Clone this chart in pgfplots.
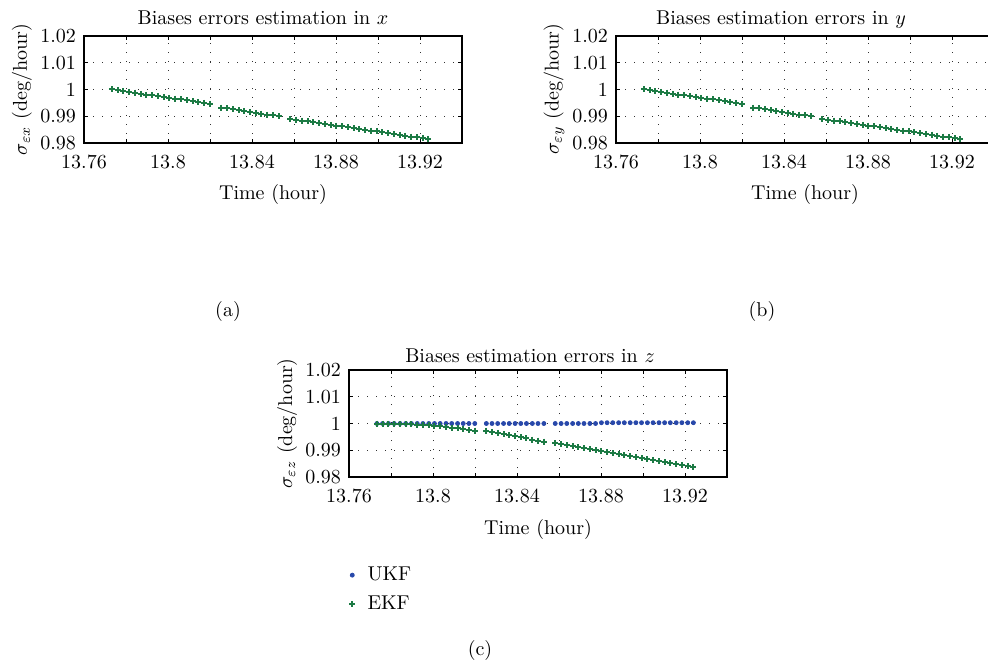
\documentclass[border=0pt]{standalone}
\usepackage{pgfplots}
\pgfplotsset{compat=1.18}
\definecolor{ekfgreen}{RGB}{28,122,68}
\definecolor{ukfblue}{RGB}{40,72,170}

\pgfplotstableread{
t y
13.7733 1.0000
13.7760 0.9997
13.7788 0.9994
13.7815 0.9991
13.7843 0.9988
13.7870 0.9984
13.7897 0.9981
13.7925 0.9978
13.7952 0.9975
13.7980 0.9972
13.8007 0.9969
13.8034 0.9966
13.8062 0.9963
13.8089 0.9960
13.8117 0.9956
13.8144 0.9953
13.8171 0.9950
13.8199 0.9947
13.8254 0.9932
13.8281 0.9929
13.8308 0.9926
13.8336 0.9922
13.8363 0.9919
13.8391 0.9916
13.8418 0.9913
13.8445 0.9910
13.8473 0.9906
13.8500 0.9903
13.8528 0.9900
13.8582 0.9890
13.8610 0.9887
13.8637 0.9884
13.8665 0.9881
13.8692 0.9878
13.8719 0.9874
13.8747 0.9871
13.8774 0.9868
13.8802 0.9865
13.8829 0.9862
13.8856 0.9859
13.8884 0.9856
13.8911 0.9853
13.8939 0.9849
13.8966 0.9846
13.8993 0.9843
13.9021 0.9840
13.9048 0.9837
13.9076 0.9834
13.9103 0.9831
13.9130 0.9828
13.9158 0.9824
13.9185 0.9821
13.9213 0.9818
13.9240 0.9815
}\ekfxy

\pgfplotstableread{
t y
13.7733 1.0000
13.7760 1.0000
13.7788 1.0000
13.7815 0.9999
13.7843 0.9999
13.7870 0.9998
13.7897 0.9997
13.7925 0.9996
13.7952 0.9995
13.7980 0.9993
13.8007 0.9991
13.8034 0.9989
13.8062 0.9987
13.8089 0.9985
13.8117 0.9982
13.8144 0.9979
13.8171 0.9976
13.8199 0.9973
13.8254 0.9973
13.8281 0.9969
13.8308 0.9965
13.8336 0.9961
13.8363 0.9957
13.8391 0.9953
13.8418 0.9948
13.8445 0.9944
13.8473 0.9940
13.8500 0.9936
13.8528 0.9932
13.8582 0.9926
13.8610 0.9922
13.8637 0.9919
13.8665 0.9915
13.8692 0.9911
13.8719 0.9907
13.8747 0.9904
13.8774 0.9900
13.8802 0.9896
13.8829 0.9892
13.8856 0.9889
13.8884 0.9885
13.8911 0.9881
13.8939 0.9877
13.8966 0.9874
13.8993 0.9870
13.9021 0.9866
13.9048 0.9862
13.9076 0.9859
13.9103 0.9855
13.9130 0.9851
13.9158 0.9847
13.9185 0.9844
13.9213 0.9840
13.9240 0.9836
}\ekfz

\pgfplotstableread{
t y
13.7733 1.0000
13.7760 1.0000
13.7788 1.0000
13.7815 1.0000
13.7843 1.0000
13.7870 1.0000
13.7897 1.0000
13.7925 1.0000
13.7952 1.0000
13.7980 1.0000
13.8007 1.0000
13.8034 1.0000
13.8062 1.0000
13.8089 1.0000
13.8117 1.0000
13.8144 1.0000
13.8171 1.0000
13.8199 1.0000
13.8254 1.0000
13.8281 1.0000
13.8308 1.0000
13.8336 1.0000
13.8363 1.0000
13.8391 1.0000
13.8418 1.0000
13.8445 1.0000
13.8473 1.0000
13.8500 1.0000
13.8528 1.0000
13.8582 1.0000
13.8610 1.0000
13.8637 1.0000
13.8665 1.0000
13.8692 1.0000
13.8719 1.0000
13.8747 1.0000
13.8774 1.0000
13.8802 1.0003
13.8829 1.0003
13.8856 1.0003
13.8884 1.0003
13.8911 1.0003
13.8939 1.0003
13.8966 1.0003
13.8993 1.0003
13.9021 1.0003
13.9048 1.0003
13.9076 1.0003
13.9103 1.0003
13.9130 1.0003
13.9158 1.0003
13.9185 1.0003
13.9213 1.0003
13.9240 1.0003
}\ukfz

\pgfplotsset{
  myax/.style={
    scale only axis, width=189pt, height=53.5pt,
    anchor=south west,
    xmin=13.76, xmax=13.94, ymin=0.98, ymax=1.02,
    xtick={13.76,13.8,13.84,13.88,13.92},
    xticklabels={13.76,13.8,13.84,13.88,13.92},
    minor xtick={13.78,13.82,13.86,13.9},
    ytick={0.98,0.99,1,1.01,1.02},
    yticklabels={0.98,0.99,1,1.01,1.02},
    grid=both,
    major grid style={black!80, line width=0.4pt, dash pattern=on 0.5pt off 4pt},
    minor grid style={black!80, line width=0.4pt, dash pattern=on 0.5pt off 4pt},
    tick align=inside, xtick pos=both, ytick pos=both,
    major tick length=2pt, minor tick length=2pt,
    tick style={black, line width=0.4pt},
    axis line style={black, line width=0.6pt},
    tick label style={font=\fontsize{10}{12}\selectfont},
    xticklabel style={yshift=-2.5pt},
    yticklabel style={xshift=-0.5pt},
    label style={font=\fontsize{10}{12}\selectfont},
    title style={font=\fontsize{10}{12}\selectfont, at={(0.5,1)}, anchor=base},
    xlabel style={at={(0.5,0)}, anchor=base, yshift=-28.5pt},
    ylabel style={at={(0,0.5)}, anchor=center, rotate=0, yshift=31pt},
    xlabel={Time (hour)},
  },
  ekf/.style={only marks, mark=+, mark size=1.5pt, ekfgreen, line width=1pt},
  ukf/.style={only marks, mark=*, mark size=1pt, ukfblue},
}

\begin{document}
\begin{tikzpicture}
\begin{axis}[myax, at={(42pt,260.5pt)},
  title={Biases errors estimation in $x$},
  title style={yshift=-0.5pt, xshift=-5pt},
  ylabel={$\sigma_{\varepsilon x}$ (deg/hour)}]
\addplot[ekf] table[x=t,y=y] {\ekfxy};
\end{axis}

\begin{axis}[myax, at={(308pt,260.5pt)},
  title={Biases estimation errors in $y$},
  title style={yshift=-0.5pt, xshift=-12pt},
  ylabel={$\sigma_{\varepsilon y}$ (deg/hour)}]
\addplot[ekf] table[x=t,y=y] {\ekfxy};
\end{axis}

\begin{axis}[myax, at={(174.5pt,93.5pt)},
  title={Biases estimation errors in $z$},
  title style={yshift=-2pt, xshift=-4pt},
  ylabel={$\sigma_{\varepsilon z}$ (deg/hour)},
  legend style={draw=none, fill=none, at={(axis description cs:-0.026,-0.761)},
    anchor=north west, row sep=2pt, cells={anchor=west},
    font=\fontsize{10}{12}\selectfont},
  legend image code/.code={\draw[mark repeat=2,mark phase=2,#1] plot coordinates {(0cm,0cm) (0.1cm,0cm) (0.2cm,0cm)}; \path (0cm,0cm) (0.28cm,0cm);}]
\addplot[ukf] table[x=t,y=y] {\ukfz};
\addlegendentry{UKF}
\addplot[ekf] table[x=t,y=y] {\ekfz};
\addlegendentry{EKF}
\end{axis}

\node[font=\fontsize{10}{12}\selectfont] at (114pt,176pt) {(a)};
\node[font=\fontsize{10}{12}\selectfont] at (381pt,176pt) {(b)};
\node[font=\fontsize{10}{12}\selectfont] at (240pt,7pt) {(c)};

\pgfresetboundingbox
\path (0pt,0pt) rectangle (494pt,332pt);
\end{tikzpicture}
\end{document}
